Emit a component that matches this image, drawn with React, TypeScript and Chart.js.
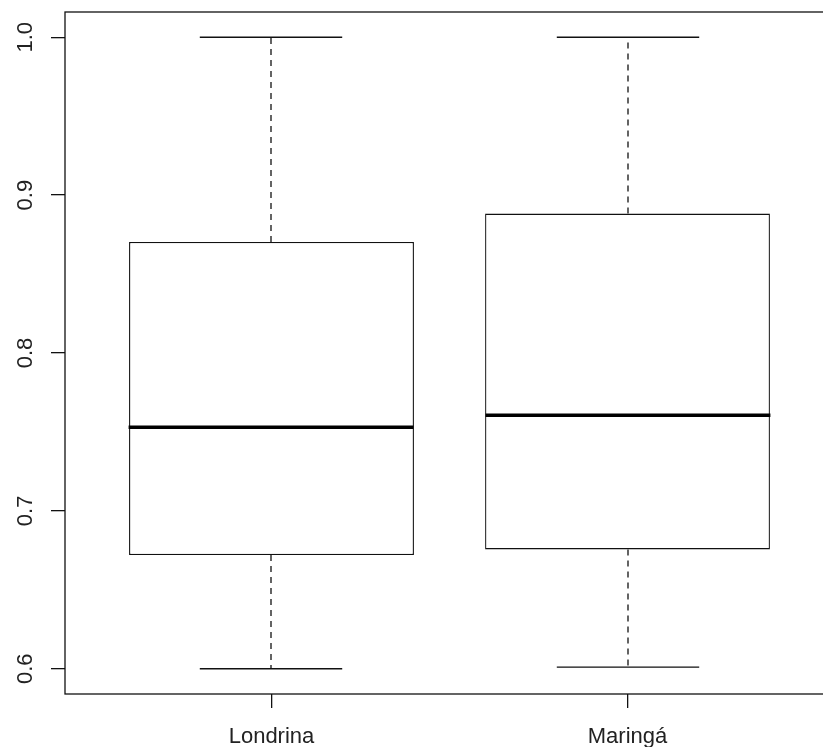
import React, { useEffect, useRef } from "react";
import { Chart, registerables } from "chart.js";

Chart.register(...registerables);

const CATEGORIES = ["Londrina", "Maringá"];
const MIN_VALUES = [0.6, 0.601];
const Q1_VALUES = [0.672, 0.6756];
const MEDIAN_VALUES = [0.753, 0.7606];
const Q3_VALUES = [0.8703, 0.8883];
const MAX_VALUES = [1.0, 1.0];
const Y_TICKS = [0.6, 0.7, 0.8, 0.9, 1.0];
const Y_TICK_LABELS = ["0.6", "0.7", "0.8", "0.9", "1.0"];

const FONT = "22px 'Liberation Sans', Arial, sans-serif";
const LINE = "#111";

const boxPlugin = {
  id: "boxExtras",
  afterDatasetsDraw(chart: any) {
    const { ctx, chartArea, scales } = chart;
    const xs = scales.x;
    const ys = scales.y;
    const unit = xs.getPixelForValue(2) - xs.getPixelForValue(1);
    const capHalf = unit * 0.2;
    ctx.save();
    ctx.strokeStyle = LINE;
    CATEGORIES.forEach((_c, i) => {
      const cx = Math.round(xs.getPixelForValue(i + 1));
      ctx.lineWidth = 1.3;
      ctx.setLineDash([6, 5]);
      ctx.beginPath();
      ctx.moveTo(cx, ys.getPixelForValue(Q3_VALUES[i]));
      ctx.lineTo(cx, ys.getPixelForValue(MAX_VALUES[i]));
      ctx.moveTo(cx, ys.getPixelForValue(Q1_VALUES[i]));
      ctx.lineTo(cx, ys.getPixelForValue(MIN_VALUES[i]));
      ctx.stroke();
      ctx.setLineDash([]);
      ctx.beginPath();
      const yMax = ys.getPixelForValue(MAX_VALUES[i]);
      const yMin = ys.getPixelForValue(MIN_VALUES[i]);
      ctx.moveTo(cx - capHalf, yMax);
      ctx.lineTo(cx + capHalf, yMax);
      ctx.moveTo(cx - capHalf, yMin);
      ctx.lineTo(cx + capHalf, yMin);
      ctx.stroke();
      const half = unit * 0.4;
      ctx.lineWidth = 3.5;
      ctx.strokeStyle = "#000";
      ctx.beginPath();
      const ym = ys.getPixelForValue(MEDIAN_VALUES[i]);
      ctx.moveTo(cx - half, ym);
      ctx.lineTo(cx + half, ym);
      ctx.stroke();
      ctx.strokeStyle = LINE;
    });
    ctx.lineWidth = 1.3;
    ctx.strokeRect(chartArea.left, chartArea.top, chartArea.right - chartArea.left, chartArea.bottom - chartArea.top);
    ctx.fillStyle = "#222";
    ctx.font = FONT;
    ctx.textAlign = "center";
    ctx.textBaseline = "alphabetic";
    CATEGORIES.forEach((c, i) => {
      ctx.fillText(c, xs.getPixelForValue(i + 1), 743);
    });
    Y_TICKS.forEach((v, i) => {
      ctx.save();
      ctx.translate(31.5, ys.getPixelForValue(v));
      ctx.rotate(-Math.PI / 2);
      ctx.fillText(Y_TICK_LABELS[i], 0, 0);
      ctx.restore();
    });
    ctx.restore();
  },
};

export default function App() {
  const ref = useRef<HTMLCanvasElement | null>(null);
  useEffect(() => {
    if (!ref.current) return;
    const chart = new Chart(ref.current, {
      type: "bar",
      data: {
        datasets: [
          {
            data: CATEGORIES.map((_c, i) => ({ x: i + 1, y: [Q1_VALUES[i], Q3_VALUES[i]] })) as any,
            backgroundColor: "#ffffff",
            borderColor: LINE,
            borderWidth: 1.3,
            borderSkipped: false,
            categoryPercentage: 1,
            barPercentage: 0.8,
          },
        ],
      },
      options: {
        animation: false,
        responsive: false,
        devicePixelRatio: 1,
        events: [],
        layout: { padding: { top: 12, right: 16, left: 0, bottom: 0 } },
        plugins: { legend: { display: false }, tooltip: { enabled: false } },
        scales: {
          x: {
            type: "linear",
            min: 0.42,
            max: 2.58,
            offset: false,
            border: { display: false },
            grid: { offset: false, drawOnChartArea: false, drawTicks: true, tickLength: 14, color: LINE, lineWidth: 1.3 },
            ticks: { display: false },
            afterBuildTicks: (s: any) => {
              s.ticks = CATEGORIES.map((_c, i) => ({ value: i + 1 }));
            },
            afterFit: (s: any) => {
              s.height = 53;
            },
          },
          y: {
            type: "linear",
            min: 0.584,
            max: 1.016,
            border: { display: false },
            grid: { offset: false, drawOnChartArea: false, drawTicks: true, tickLength: 14, color: LINE, lineWidth: 1.3 },
            ticks: { display: false },
            afterBuildTicks: (s: any) => {
              s.ticks = Y_TICKS.map((v) => ({ value: v }));
            },
            afterFit: (s: any) => {
              s.width = 65;
            },
          },
        },
      },
      plugins: [boxPlugin],
    });
    return () => chart.destroy();
  }, []);
  return (
    <div style={{ position: "absolute", left: 0, top: 0, width: 823, height: 747, overflow: "hidden", background: "#fff" }}>
      <canvas ref={ref} width={850} height={747} style={{ width: 850, height: 747, display: "block" }} />
    </div>
  );
}
